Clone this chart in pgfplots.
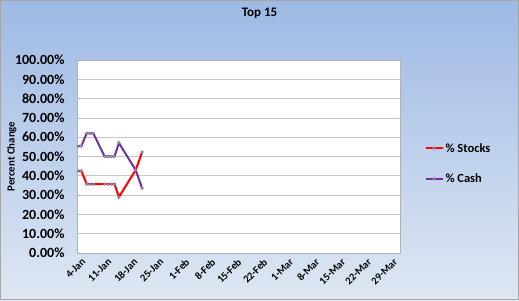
\documentclass[border=0pt]{standalone}
\usepackage{pgfplots}
\pgfplotsset{compat=1.18}
\usepackage{fontspec}
\setmainfont{Carlito}
\definecolor{bgtop}{RGB}{158,185,228}
\definecolor{bgbot}{RGB}{222,231,243}
\definecolor{stockred}{RGB}{255,0,0}
\definecolor{cashpurple}{RGB}{112,48,160}
\definecolor{markfill}{RGB}{205,198,218}
\definecolor{markedge}{RGB}{125,105,150}
\begin{document}
\begin{tikzpicture}
\shade[top color=bgtop, bottom color=bgbot] (0pt,0pt) rectangle (519pt,300pt);
\draw[gray!70, line width=0.8pt] (0.4pt,0.4pt) rectangle (518.6pt,299.6pt);
\begin{axis}[
  at={(77pt,47pt)}, anchor=south west, scale only axis,
  width=323pt, height=193pt,
  xmin=0, xmax=87, ymin=0, ymax=100,
  axis background/.style={fill=white},
  axis line style={gray!60},
  ytick={0,10,...,100},
  yticklabels={0.00\%,10.00\%,20.00\%,30.00\%,40.00\%,50.00\%,60.00\%,70.00\%,80.00\%,90.00\%,100.00\%},
  xtick={0,7,...,84},
  xticklabels={4-Jan,11-Jan,18-Jan,25-Jan,1-Feb,8-Feb,15-Feb,22-Feb,1-Mar,8-Mar,15-Mar,22-Mar,29-Mar},
  major tick length=0pt,
  ymajorgrids, major grid style={gray!45, line width=0.6pt},
  yticklabel style={font=\fontsize{14}{16}\selectfont\bfseries, xshift=-9pt},
  xticklabel style={font=\fontsize{10.5}{12}\selectfont\bfseries, rotate=45, anchor=east, xshift=3pt, yshift=-10pt},
  title={Top 15},
  title style={at={(axis description cs:0.565,1.212)}, anchor=center, font=\fontsize{13}{15}\selectfont\bfseries},
  ylabel={Percent Change},
  ylabel style={at={(axis description cs:-0.202,0.5)}, anchor=center, font=\fontsize{10.8}{13}\selectfont\bfseries},
  legend style={at={(axis description cs:1.066,0.59)}, anchor=north west, draw=none, fill=none,
    font=\fontsize{12.5}{14}\selectfont\bfseries, row sep=16pt},
  legend cell align=left,
  legend image code/.code={
    \draw[#1] (0pt,0pt) -- (17pt,0pt);
    \draw[mark repeat=2,mark phase=2,#1] plot coordinates {(0pt,0pt) (8.5pt,0pt) (17pt,0pt)};
  },
]
\addplot[stockred, line width=2pt, mark=*, mark size=1.3pt,
  mark options={fill=markfill, draw=markedge, line width=0.6pt}] coordinates {
  (0.27,42.5) (1.16,42.5) (2.61,35.7) (3.49,35.7) (4.38,35.7) (7.45,35.7) (8.33,35.7)
  (9.22,35.7) (10.10,35.7) (11.29,29.0) (15.80,43.0) (17.55,52.3)
};
\addlegendentry{\% Stocks}
\addplot[cashpurple, line width=2pt, mark=*, mark size=1.3pt,
  mark options={fill=markfill, draw=markedge, line width=0.6pt}] coordinates {
  (0.27,55.4) (1.16,55.4) (2.61,62.0) (3.49,62.0) (4.38,62.0) (7.45,50.0) (8.33,50.0)
  (9.22,50.0) (10.10,50.0) (11.29,57.0) (15.80,43.0) (17.55,33.5)
};
\addlegendentry{\% Cash}
\end{axis}
\end{tikzpicture}
\end{document}
